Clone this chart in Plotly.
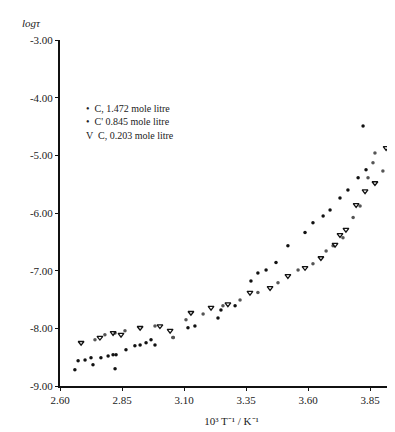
import plotly.graph_objects as go

# Data (x: 10^3 T^-1 / K^-1, y: log tau)
x_c1472 = [2.660, 2.673, 2.701, 2.725, 2.733, 2.765, 2.794, 2.814, 2.826, 2.822, 2.866, 2.902,
           2.923, 2.947, 2.967, 2.983, 3.056, 3.116, 3.144, 3.237, 3.249, 3.306, 3.370, 3.398,
           3.431, 3.471, 3.519, 3.588, 3.620, 3.661, 3.689, 3.729, 3.761, 3.802, 3.834, 3.822,
           3.955]
y_c1472 = [-8.72, -8.56, -8.55, -8.51, -8.63, -8.51, -8.48, -8.46, -8.46, -8.70, -8.37, -8.30,
           -8.29, -8.25, -8.20, -8.29, -8.16, -7.99, -7.96, -7.82, -7.68, -7.61, -7.18, -7.04,
           -6.99, -6.86, -6.57, -6.34, -6.17, -6.05, -5.95, -5.74, -5.60, -5.39, -5.25, -4.49,
           -4.61]

x_c0845 = [2.741, 2.781, 2.822, 2.862, 2.983, 3.056, 3.108, 3.177, 3.257, 3.326, 3.398, 3.479,
           3.560, 3.620, 3.673, 3.701, 3.741, 3.782, 3.810, 3.842, 3.862, 3.870, 3.902, 3.931]
y_c0845 = [-8.20, -8.11, -8.08, -8.04, -7.96, -8.16, -7.85, -7.75, -7.61, -7.51, -7.38, -7.21,
           -6.99, -6.88, -6.66, -6.57, -6.43, -6.08, -5.88, -5.39, -5.13, -4.96, -5.27, -4.27]

x_c0203 = [2.685, 2.761, 2.814, 2.846, 2.923, 3.003, 3.044, 3.128, 3.209, 3.277, 3.366, 3.447,
           3.519, 3.588, 3.652, 3.709, 3.729, 3.753, 3.794, 3.830, 3.870, 3.915, 3.951]
y_c0203 = [-8.25, -8.16, -8.08, -8.11, -7.99, -7.96, -8.04, -7.73, -7.64, -7.58, -7.38, -7.30,
           -7.09, -6.95, -6.78, -6.55, -6.38, -6.29, -5.86, -5.62, -5.48, -4.87, -4.01]

y_ticks = [-3, -4, -5, -6, -7, -8, -9]
y_tick_labels = ["-3.00", "-4.00", "-5.00", "-6.00", "-7.00", "-8.00", "-9.00"]
x_ticks = [2.60, 2.85, 3.10, 3.35, 3.60, 3.85]
x_tick_labels = ["2.60", "2.85", "3.10", "3.35", "3.60", "3.85"]

legend_lines = ["\u2022  C, 1.472 mole litre", "\u2022  C' 0.845 mole litre", "V  C, 0.203 mole litre"]

FONT = "Liberation Serif"

fig = go.Figure()
fig.add_trace(go.Scatter(x=x_c1472, y=y_c1472, mode="markers", name="C 1.472",
                         marker=dict(symbol="circle", size=3.5, color="#111")))
fig.add_trace(go.Scatter(x=x_c0845, y=y_c0845, mode="markers", name="C 0.845",
                         marker=dict(symbol="circle", size=3.5, color="#555")))
fig.add_trace(go.Scatter(x=x_c0203, y=y_c0203, mode="markers", name="C 0.203",
                         marker=dict(symbol="triangle-down-open", size=5, color="#111",
                                     line=dict(width=1.3, color="#111"))))

for i, t in enumerate(legend_lines):
    fig.add_annotation(text=t, xref="paper", yref="paper", x=(76 - 52) / 343,
                       y=1 - (100 + 14 * i - 32) / 346, xanchor="left", yanchor="middle",
                       showarrow=False, font=dict(family=FONT, size=10, color="#222"))

fig.add_annotation(text="<i>log\u03c4</i>", xref="paper", yref="paper", x=-40 / 343, y=1 + 17 / 346,
                   xanchor="left", yanchor="middle", showarrow=False,
                   font=dict(family=FONT, size=11, color="#222"))

fig.update_layout(
    width=395, height=432,
    margin=dict(l=52, r=0, t=32, b=54),
    paper_bgcolor="white", plot_bgcolor="white",
    showlegend=False,
    font=dict(family=FONT, size=11, color="#222"),
    xaxis=dict(range=[2.60, 2.60 + 343 / 248], tickvals=x_ticks, ticktext=x_tick_labels,
               showline=True, linewidth=2, linecolor="#111", showgrid=False, zeroline=False,
               ticks="outside", ticklen=3, tickcolor="#111",
               title=dict(text="10\u00b3 T\u207b\u00b9 / K\u207b\u00b9", standoff=12,
                          font=dict(family=FONT, size=11))),
    yaxis=dict(range=[-9, -3], tickvals=y_ticks, ticktext=y_tick_labels,
               showline=True, linewidth=2, linecolor="#111", showgrid=False, zeroline=False,
               ticks="outside", ticklen=3, tickcolor="#111"),
)

fig.write_html("out.html")
